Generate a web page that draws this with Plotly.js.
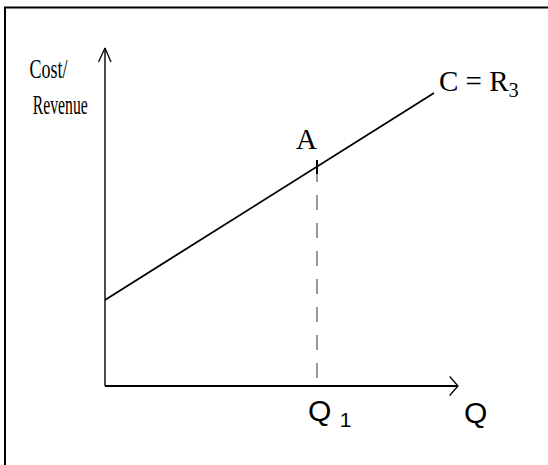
<!DOCTYPE html>
<html>
<head>
<meta charset="utf-8">
<script src="https://cdn.plot.ly/plotly-3.0.1.min.js"></script>
<style>
  html, body { margin: 0; padding: 0; background: #fff; }
  #chart { width: 548px; height: 465px; }
</style>
</head>
<body>
<div id="chart"></div>
<script>
// ---- data (Q units, cost/revenue units) ----
const costRevenueQ = [0, 15.52];        // Q along the C = R3 line
const costRevenueVal = [4.06, 13.82];   // cost / revenue along the line
const pointAQ = [10];                   // Q1
const pointAVal = [10.33];              // cost/revenue at A
const axisQEnd = 16.65;                 // end of Q axis arrow
const axisCostEnd = 15.94;              // end of cost axis arrow
const labelLine = 'C = R<sub>3</sub>';
const labelA = 'A';
const labelQ1 = 'Q <sub>1</sub>';
const labelQ = 'Q';
const labelY1 = 'Cost/';
const labelY2 = 'Revenue';

// ---- layout helpers ----
const W = 548, H = 465;
const UNIT = 21.2;                 // pixels per data unit
const px = v => v / W;
const py = v => 1 - v / H;
const u = p => p / UNIT;           // pixel length -> data length

// arrowhead chevrons derived from axis ends
const xHead = { x: [axisQEnd - u(8.3), axisQEnd, axisQEnd - u(8.3)], y: [u(9.5), 0, -u(9.5)] };
const yHead = { x: [-u(6.5), 0, u(6)], y: [axisCostEnd - u(14), axisCostEnd, axisCostEnd - u(14)] };

const traces = [
  { x: [0, axisQEnd], y: [0, 0], mode: 'lines', line: { color: '#000', width: 2 } },
  { x: [0, 0], y: [0, axisCostEnd], mode: 'lines', line: { color: '#000', width: 1.4 } },
  { x: xHead.x, y: xHead.y, mode: 'lines', line: { color: '#000', width: 1.3 } },
  { x: yHead.x, y: yHead.y, mode: 'lines', line: { color: '#000', width: 1.3 } },
  { // C = R3 line
    x: costRevenueQ, y: costRevenueVal, mode: 'lines',
    line: { color: '#000', width: 1.8 }
  },
  { // dashed drop line from A to Q1
    x: [pointAQ[0], pointAQ[0]], y: [pointAVal[0], 0], mode: 'lines',
    line: { color: '#6e6e6e', width: 1.4, dash: '15px,13px' }
  },
  { // tick mark at A
    x: pointAQ, y: pointAVal, mode: 'markers',
    marker: { symbol: 'line-ns', size: 10, line: { color: '#000', width: 2 } }
  }
];

const serif = 'Liberation Serif, Times New Roman, serif';
const sans = 'Liberation Sans, Arial, sans-serif';

const layout = {
  width: W, height: H,
  margin: { l: 0, r: 0, t: 0, b: 0 },
  paper_bgcolor: '#fff', plot_bgcolor: '#fff',
  showlegend: false,
  hovermode: false,
  xaxis: { range: [-105 / UNIT, (548 - 105) / UNIT], visible: false, fixedrange: true },
  yaxis: { range: [(386 - 465) / UNIT, 386 / UNIT], visible: false, fixedrange: true },
  shapes: [
    { type: 'rect', xref: 'paper', yref: 'paper',
      x0: px(5), x1: px(560), y0: py(7.5), y1: py(480),
      line: { color: '#000', width: 2 } }
  ],
  annotations: [
    { xref: 'paper', yref: 'paper', x: px(49), y: py(69), xanchor: 'center', yanchor: 'middle',
      text: labelY1, showarrow: false, font: { family: serif, size: 27, color: '#000' } },
    { xref: 'paper', yref: 'paper', x: px(60), y: py(105.5), xanchor: 'center', yanchor: 'middle',
      text: labelY2, showarrow: false, font: { family: serif, size: 27, color: '#000' } },
    { xref: 'paper', yref: 'paper', x: px(306.5), y: py(139), xanchor: 'center', yanchor: 'middle',
      text: labelA, showarrow: false, font: { family: serif, size: 29, color: '#000' } },
    { xref: 'paper', yref: 'paper', x: px(437), y: py(83), xanchor: 'left', yanchor: 'middle',
      text: labelLine, showarrow: false, font: { family: serif, size: 29, color: '#000' } },
    { xref: 'paper', yref: 'paper', x: px(306), y: py(412), xanchor: 'left', yanchor: 'middle',
      text: labelQ1, showarrow: false, font: { family: sans, size: 30, color: '#000' } },
    { xref: 'paper', yref: 'paper', x: px(475.5), y: py(412), xanchor: 'center', yanchor: 'middle',
      text: labelQ, showarrow: false, font: { family: sans, size: 30, color: '#000' } }
  ]
};

Plotly.newPlot('chart', traces, layout, { staticPlot: true, displayModeBar: false }).then(() => {
  // condensed look of the y-axis caption
  const lengths = { 'Cost/': 38, 'Revenue': 55 };
  document.querySelectorAll('#chart .annotation-text').forEach(t => {
    const L = lengths[t.textContent];
    if (L) {
      t.setAttribute('textLength', L);
      t.setAttribute('lengthAdjust', 'spacingAndGlyphs');
    }
  });
});
</script>
</body>
</html>
